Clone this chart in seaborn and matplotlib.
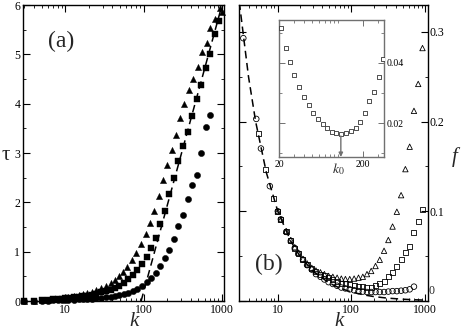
import matplotlib
matplotlib.use("Agg")
import matplotlib.pyplot as plt
import matplotlib.ticker as mticker
import matplotlib.transforms as mtransforms
import seaborn as sns

sns.set_style("ticks")
plt.rcParams['font.family'] = 'serif'
plt.rcParams['font.serif'] = ['Liberation Serif', 'DejaVu Serif']
plt.rcParams['mathtext.fontset'] = 'stix'
plt.rcParams['axes.edgecolor'] = 'black'
plt.rcParams['xtick.color'] = 'black'
plt.rcParams['ytick.color'] = 'black'

# ---- panel (a): tau vs k ----
k_a = [3, 4, 5, 6, 7, 8, 9, 10, 11, 13, 15, 17, 19, 22, 25, 29, 33, 38, 43, 49, 56,
       64, 73, 83, 95, 109, 125, 143, 163, 186, 213, 243, 278, 318, 363, 415, 474,
       542, 620, 709, 810, 926]
tau_sq = [0.0, 0.01, 0.02, 0.03, 0.035, 0.04, 0.05, 0.055, 0.06, 0.075, 0.085, 0.10, 0.11,
          0.13, 0.15, 0.175, 0.20, 0.23, 0.27, 0.31, 0.37, 0.45, 0.53, 0.63, 0.75, 0.89,
          1.08, 1.28, 1.56, 1.83, 2.17, 2.49, 2.84, 3.15, 3.43, 3.75, 4.10, 4.37, 4.72,
          5.00, 5.42, 5.68]
tau_circ = [0.0, 0.0, 0.005, 0.01, 0.012, 0.015, 0.018, 0.02, 0.022, 0.027, 0.032, 0.036,
            0.041, 0.048, 0.055, 0.065, 0.075, 0.088, 0.10, 0.12, 0.14, 0.165, 0.20, 0.245,
            0.30, 0.39, 0.47, 0.57, 0.70, 0.88, 1.03, 1.26, 1.52, 1.75, 2.07, 2.36, 2.56,
            3.00, 3.52, 3.77]
k_a_tri = [3, 4, 5, 6, 7, 8, 9, 10, 11, 13, 15, 17, 19, 22, 25, 29, 33, 38, 43, 49,
           55, 62, 72, 81, 94, 106, 119, 134, 156, 175, 197, 229, 257, 290, 326, 378,
           425, 492, 554, 642, 702, 810, 942, 1000]
tau_tri = [0.0, 0.01, 0.02, 0.03, 0.04, 0.05, 0.06, 0.07, 0.08, 0.10, 0.12, 0.14, 0.16,
           0.19, 0.22, 0.26, 0.30, 0.36, 0.43, 0.51, 0.59, 0.69, 0.83, 0.97, 1.16, 1.36,
           1.58, 1.83, 2.13, 2.45, 2.76, 3.07, 3.37, 3.71, 4.00, 4.28, 4.50, 4.75, 5.05,
           5.23, 5.54, 5.72, 5.94, 5.86]
k_fit_a = [93, 1000]
tau_fit_a = [0.0, 6.0]

# ---- panel (b): f vs k ----
k_b_circ = [3.4, 5.1, 5.9, 7.8, 10, 11, 13, 15, 17, 19, 22, 25, 29, 33, 38, 43, 49, 56, 64,
            73, 83, 95, 109, 125, 143, 163, 186, 213, 243, 278, 318, 363, 415, 474, 542,
            620, 709]
f_circ = [0.293, 0.203, 0.170, 0.128, 0.100, 0.091, 0.077, 0.067, 0.059, 0.053, 0.046,
          0.040, 0.035, 0.030, 0.027, 0.024, 0.021, 0.019, 0.017, 0.015, 0.014, 0.013,
          0.012, 0.011, 0.0105, 0.010, 0.010, 0.010, 0.010, 0.010, 0.0105, 0.011, 0.011,
          0.0115, 0.012, 0.013, 0.016]
k_b_sq = [5.4, 6.9, 8.8, 10, 11, 13, 15, 17, 19, 22, 25, 29, 33, 38, 43, 49, 56, 64, 73,
          83, 95, 109, 125, 143, 163, 186, 213, 243, 278, 318, 363, 415, 474, 542, 620,
          709, 810, 926]
f_sq = [0.187, 0.147, 0.114, 0.100, 0.091, 0.077, 0.067, 0.059, 0.053, 0.046, 0.041,
        0.036, 0.033, 0.030, 0.028, 0.026, 0.024, 0.022, 0.020, 0.019, 0.018, 0.017,
        0.0165, 0.016, 0.0155, 0.0155, 0.017, 0.019, 0.022, 0.027, 0.032, 0.038, 0.046,
        0.054, 0.061, 0.076, 0.089, 0.102]
k_b_tri = [10, 11, 13, 15, 17, 19, 22, 25, 29, 33, 38, 43, 49, 56, 64, 73, 83, 95, 109,
           125, 143, 163, 186, 213, 243, 278, 318, 363, 415, 474, 542, 620, 709, 810, 926]
f_tri = [0.100, 0.091, 0.078, 0.068, 0.060, 0.054, 0.047, 0.042, 0.037, 0.034, 0.032,
         0.030, 0.028, 0.027, 0.026, 0.025, 0.0245, 0.0245, 0.025, 0.026, 0.027, 0.030,
         0.0335, 0.039, 0.046, 0.056, 0.068, 0.083, 0.0995, 0.118, 0.147, 0.172, 0.212,
         0.242, 0.282]
k_fit_b = [3, 4, 5, 7, 10, 15, 20, 30, 50, 70, 100, 150, 200, 300, 500, 700, 1000]
f_fit_b = [0.333, 0.25, 0.2, 0.143, 0.1, 0.0667, 0.05, 0.0333, 0.02, 0.0143, 0.01,
           0.0067, 0.005, 0.0033, 0.002, 0.0014, 0.001]

# ---- inset ----
k_in = [21, 24, 27, 30, 35, 40, 45, 51, 58, 66, 74, 85, 96, 109, 124, 143, 164, 186, 211,
        238, 270, 310, 346]
f_in = [0.0518, 0.0451, 0.0402, 0.0360, 0.0319, 0.0288, 0.0259, 0.0232, 0.0214, 0.0197,
        0.0184, 0.0171, 0.0166, 0.0162, 0.0166, 0.0173, 0.0184, 0.0204, 0.0232, 0.0274,
        0.0304, 0.0354, 0.0413]
k0 = 109


def style_log_x(ax):
    ax.set_xscale('log')
    ax.xaxis.set_major_locator(mticker.LogLocator(base=10))
    ax.xaxis.set_minor_locator(mticker.LogLocator(base=10, subs=range(2, 10)))
    ax.xaxis.set_major_formatter(mticker.FuncFormatter(lambda v, _: f"{v:g}"))
    ax.xaxis.set_minor_formatter(mticker.NullFormatter())


def style_ticks(ax):
    ax.tick_params(which='both', direction='in', top=True, right=True,
                   labelsize=8.5, pad=2)
    ax.tick_params(which='major', length=5, width=0.8)
    ax.tick_params(which='minor', length=2.5, width=0.6)
    for s in ax.spines.values():
        s.set_linewidth(1.0)
        s.set_color('black')


fig = plt.figure(figsize=(4.63, 3.33), dpi=100)

# panel (a)
ax1 = fig.add_axes([23 / 463, 32 / 333, 201 / 463, 296 / 333])
sns.scatterplot(x=k_a_tri, y=tau_tri, marker='^', s=20, color='black', edgecolor='black',
                linewidth=0.3, ax=ax1, legend=False, clip_on=False, zorder=3)
sns.scatterplot(x=k_a, y=tau_sq, marker='s', s=14, color='black', edgecolor='black',
                linewidth=0.3, ax=ax1, legend=False, clip_on=False, zorder=3)
sns.scatterplot(x=k_a[:len(tau_circ)], y=tau_circ, marker='o', s=20, color='black',
                edgecolor='black', linewidth=0.3, ax=ax1, legend=False, clip_on=False,
                zorder=3)
sns.lineplot(x=k_fit_a, y=tau_fit_a, color='black', lw=1.1, ax=ax1, legend=False)
ax1.lines[-1].set_dashes([5, 3])
style_log_x(ax1)
ax1.set_xlim(2.9, 1060)
ax1.set_ylim(0, 6)
ax1.yaxis.set_major_locator(mticker.MultipleLocator(1))
ax1.yaxis.set_minor_locator(mticker.MultipleLocator(0.5))
ax1.yaxis.set_major_formatter(mticker.FuncFormatter(lambda v, _: f"{v:g}"))
style_ticks(ax1)
ax1.set_xlabel('')
ax1.set_ylabel('')

# panel (b)
ax2 = fig.add_axes([239 / 463, 32 / 333, 189 / 463, 296 / 333])
sns.lineplot(x=k_fit_b, y=f_fit_b, color='black', lw=1.1, ax=ax2, legend=False)
ax2.lines[-1].set_dashes([5, 3])
sns.scatterplot(x=k_b_tri, y=f_tri, marker='^', s=15, color='black', facecolor='none',
                edgecolor='black', linewidth=0.6, ax=ax2, legend=False, zorder=3)
sns.scatterplot(x=k_b_sq, y=f_sq, marker='s', s=13, color='black', facecolor='none',
                edgecolor='black', linewidth=0.6, ax=ax2, legend=False, zorder=3)
sns.scatterplot(x=k_b_circ, y=f_circ, marker='o', s=16, color='black', facecolor='none',
                edgecolor='black', linewidth=0.6, ax=ax2, legend=False, zorder=3)
style_log_x(ax2)
ax2.set_xlim(2.97, 1100)
ax2.set_ylim(0, 0.33)
ax2.yaxis.set_major_locator(mticker.MultipleLocator(0.1))
ax2.yaxis.set_minor_locator(mticker.MultipleLocator(0.05))
# the "0" is written by hand a bit higher so it clears the "1000" below it
ax2.yaxis.set_major_formatter(mticker.FuncFormatter(lambda v, _: '' if abs(v) < 1e-9 else f"{v:g}"))
style_ticks(ax2)
ax2.tick_params(axis='y', which='both', labelleft=False, labelright=True)
ax2.tick_params(axis='y', pad=1)
ax2.set_xlabel('')
ax2.set_ylabel('')
ax2.text(1.005, 0.012, '0', transform=ax2.transAxes, ha='left', va='bottom',
         fontsize=8.5)

# inset
gray = '#707070'
axi = fig.add_axes([279 / 463, (333 - 157) / 333, 105 / 463, 137 / 333])
sns.scatterplot(x=k_in, y=f_in, marker='s', s=10, color='black', facecolor='white',
                edgecolor='#333333', linewidth=0.6, ax=axi, legend=False, zorder=3)
axi.set_xscale('log')
axi.set_xlim(20, 356)
axi.set_ylim(0.0087, 0.0543)
axi.xaxis.set_major_locator(mticker.FixedLocator([20, 200]))
axi.xaxis.set_major_formatter(mticker.FixedFormatter(['20', '200']))
axi.xaxis.set_minor_locator(mticker.FixedLocator([30, 40, 50, 60, 70, 80, 90, 100, 300]))
axi.xaxis.set_minor_formatter(mticker.NullFormatter())
axi.yaxis.set_major_locator(mticker.FixedLocator([0.02, 0.04]))
axi.yaxis.set_major_formatter(mticker.FixedFormatter(['0.02', '0.04']))
axi.yaxis.set_minor_locator(mticker.FixedLocator([0.01, 0.03, 0.05]))
axi.tick_params(which='both', direction='in', top=True, right=True, labelsize=7,
                pad=2, color=gray)
axi.tick_params(which='major', length=4, width=0.7)
axi.tick_params(which='minor', length=2.5, width=0.6)
axi.tick_params(axis='y', which='both', labelleft=False, labelright=True)
for s in axi.spines.values():
    s.set_linewidth(1.0)
    s.set_color(gray)
axi.annotate('', xy=(k0, 0.0087), xytext=(k0, 0.0157),
             arrowprops=dict(arrowstyle='-|>', color=gray, lw=1.0, mutation_scale=6,
                             shrinkA=0, shrinkB=0))
trans = mtransforms.blended_transform_factory(axi.transData, axi.transAxes)
axi.text(103, -0.03, r'$k_0$', transform=trans, ha='center', va='top', fontsize=10)
axi.set_xlabel('')
axi.set_ylabel('')

# labels
fig.text(61 / 463, 1 - 41 / 333, '(a)', ha='center', va='center', fontsize=17)
fig.text(269 / 463, 1 - 264 / 333, '(b)', ha='center', va='center', fontsize=17)
fig.text(134 / 463, 1 - 321 / 333, 'k', ha='center', va='center', fontsize=15,
         style='italic')
fig.text(339 / 463, 1 - 321 / 333, 'k', ha='center', va='center', fontsize=15,
         style='italic')
fig.text(6 / 463, 1 - 155 / 333, 'τ', ha='center', va='center', fontsize=15)
fig.text(455 / 463, 1 - 157 / 333, 'f', ha='center', va='center', fontsize=15,
         style='italic')

fig.savefig('out.png', dpi=100)
